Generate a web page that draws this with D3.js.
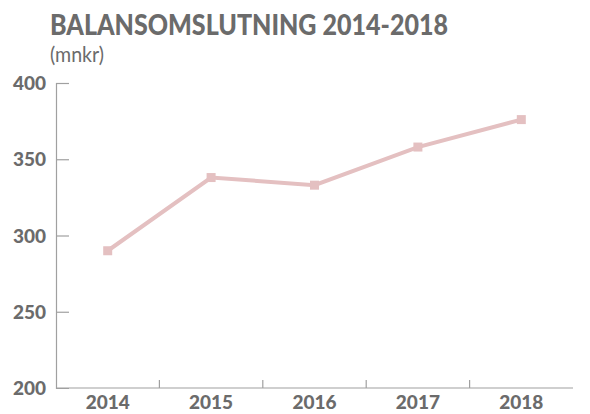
<!DOCTYPE html>
<html><head><meta charset="utf-8">
<script src="https://cdn.jsdelivr.net/npm/d3@7"></script>
<style>html,body{margin:0;padding:0;background:#fff;}svg{display:block;}</style>
</head><body>
<svg id="chart" width="590" height="414"></svg>
<script>
const years = ["2014","2015","2016","2017","2018"];
const values = [290, 338, 333, 358, 376];
const yTicks = [200, 250, 300, 350, 400];
const titleText = "BALANSOMSLUTNING 2014-2018";
const subtitleText = "(mnkr)";

(function () {
const svg = d3.select("#chart");
const textColor = "#6b6b6b";
const axisColor = "#a0a0a0";
const mLeft = 56, mRight = 573, mTop = 83, mBottom = 388;

const x = d3.scaleBand().domain(years).range([mLeft, mRight]);
const y = d3.scaleLinear().domain([200, 400]).range([mBottom, mTop]);

svg.append("text").attr("x", 50).attr("y", 35)
  .attr("font-family", "Lato").attr("font-weight", 900).attr("font-size", 28)
  .attr("fill", textColor).attr("textLength", 398).attr("lengthAdjust", "spacingAndGlyphs")
  .text(titleText);
svg.append("text").attr("x", 50).attr("y", 62)
  .attr("font-family", "Lato").attr("font-size", 21)
  .attr("fill", textColor).attr("textLength", 54).attr("lengthAdjust", "spacingAndGlyphs")
  .text(subtitleText);

// y axis
const yAxis = d3.axisRight(y).tickValues(yTicks).tickSize(13).tickFormat("");
const gy = svg.append("g").attr("transform", `translate(${mLeft},0)`).call(yAxis);
gy.select(".domain").attr("stroke", axisColor).attr("stroke-width", 1.2);
gy.selectAll(".tick line").attr("stroke", axisColor).attr("stroke-width", 1.2);
gy.selectAll(".tick").filter(d => d === 200).select("line").remove();
gy.selectAll(".tick").append("text")
  .attr("x", -10).attr("dy", "0.35em").attr("text-anchor", "end")
  .attr("font-family", "Lato").attr("font-weight", 900).attr("font-size", 19)
  .attr("fill", textColor).text(d => d);

// x axis
const xEdges = years.slice(1).map(d => x(d));
svg.append("line").attr("x1", mLeft).attr("x2", mRight).attr("y1", mBottom).attr("y2", mBottom)
  .attr("stroke", axisColor).attr("stroke-width", 1.2);
svg.selectAll(".xtick").data(xEdges).join("line").attr("class", "xtick")
  .attr("x1", d => d).attr("x2", d => d).attr("y1", mBottom).attr("y2", mBottom - 8)
  .attr("stroke", axisColor).attr("stroke-width", 1.2);
svg.selectAll(".xlabel").data(years).join("text").attr("class", "xlabel")
  .attr("x", d => x(d) + x.bandwidth() / 2).attr("y", 409)
  .attr("text-anchor", "middle")
  .attr("font-family", "Lato").attr("font-weight", 900).attr("font-size", 19)
  .attr("fill", textColor).text(d => d);

// line
const lineColor = "#e4c0c1";
const line = d3.line().x((d, i) => x(years[i]) + x.bandwidth() / 2).y(d => y(d));
svg.append("path").datum(values).attr("d", line)
  .attr("fill", "none").attr("stroke", lineColor).attr("stroke-width", 4);
svg.selectAll(".marker").data(values).join("rect").attr("class", "marker")
  .attr("x", (d, i) => x(years[i]) + x.bandwidth() / 2 - 4.5)
  .attr("y", d => y(d) - 4.5).attr("width", 9).attr("height", 9)
  .attr("fill", lineColor);
})();
</script>
</body></html>
